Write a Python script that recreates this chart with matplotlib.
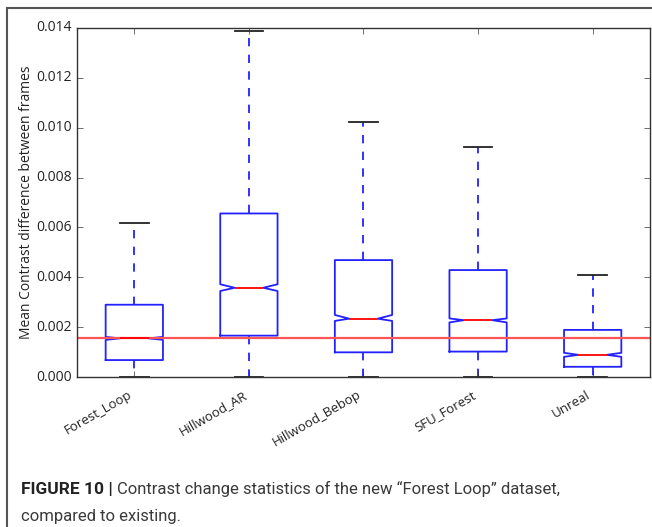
import matplotlib
matplotlib.use("Agg")
import matplotlib.pyplot as plt
from matplotlib.lines import Line2D

# dataset names and box statistics (values x 1e-3)
datasets = ["Forest_Loop", "Hillwood_AR", "Hillwood_Bebop", "SFU_Forest", "Unreal"]
whis_lo = [0.0, 0.0, 0.0, 0.0, 0.0]
q1 = [0.68, 1.66, 0.99, 1.02, 0.41]
medians = [1.55, 3.58, 2.34, 2.28, 0.89]
q3 = [2.90, 6.56, 4.69, 4.29, 1.89]
whis_hi = [6.16, 13.88, 10.24, 9.21, 4.09]
ci_lo = [1.49, 3.45, 2.25, 2.19, 0.81]
ci_hi = [1.61, 3.72, 2.49, 2.35, 0.97]
ref_level = 1.55

plt.style.use('classic')
plt.rcParams['font.family'] = ['Open Sans', 'DejaVu Sans']

fig = plt.figure(figsize=(6.52, 5.27), dpi=100, facecolor='white')
ax = fig.add_axes([0.1181, 0.2846, 0.8788, 0.6623])
ax.set_facecolor('white')

stats = []
for i in range(len(datasets)):
    stats.append(dict(label=datasets[i],
                      whislo=whis_lo[i] * 1e-3, q1=q1[i] * 1e-3,
                      med=medians[i] * 1e-3, q3=q3[i] * 1e-3,
                      whishi=whis_hi[i] * 1e-3,
                      cilo=ci_lo[i] * 1e-3, cihi=ci_hi[i] * 1e-3,
                      fliers=[]))

ax.bxp(stats, shownotches=True, widths=0.5,
       boxprops=dict(color='#2222ff', linewidth=1.3),
       whiskerprops=dict(color='#2222ff', linestyle='--', linewidth=1.3),
       capprops=dict(color='#222222', linewidth=1.3),
       medianprops=dict(color='r', linewidth=1.3))

ax.axhline(ref_level * 1e-3, color='#ff5555', linewidth=1.6)

ax.set_xlim(0.5, 5.5)
ax.set_ylim(0, 0.014)
ax.set_yticks([0.000, 0.002, 0.004, 0.006, 0.008, 0.010, 0.012, 0.014])
ax.set_yticklabels(['%.3f' % v for v in ax.get_yticks()])
ax.tick_params(labelsize=10, colors='#333333')
ax.tick_params(axis='x', pad=8)
plt.setp(ax.get_xticklabels(), rotation=30, ha='right', fontsize=9.5, color='#222222')
plt.setp(ax.get_yticklabels(), color='#222222')
ax.set_ylabel('Mean Contrast difference between frames', fontsize=10, color='#222222',
              labelpad=1)
for s in ax.spines.values():
    s.set_color('#333333')

# caption + outer frame like the journal figure
fig.add_artist(Line2D([7 / 652, 7 / 652], [0, 1 - 8 / 527], transform=fig.transFigure,
                      color='#555555', linewidth=1.5))
fig.add_artist(Line2D([7 / 652, 1], [1 - 8 / 527, 1 - 8 / 527], transform=fig.transFigure,
                      color='#555555', linewidth=1.5))

cap_font = ['Roboto', 'DejaVu Sans']
t1 = fig.text(21 / 652, 1 - 489 / 527, 'FIGURE 10 |', fontsize=12.5, fontweight='bold',
              family=cap_font, va='center', color='#222222')
fig.canvas.draw()
bb = t1.get_window_extent()
fig.text((bb.x1 + 4) / 652, 1 - 489 / 527,
         'Contrast change statistics of the new \u201cForest Loop\u201d dataset,',
         fontsize=12, family=cap_font, va='center', color='#3a3a3a')
fig.text(21 / 652, 1 - 516 / 527, 'compared to existing.', fontsize=12,
         family=cap_font, va='center', color='#3a3a3a')

fig.savefig('out.png', dpi=100, facecolor='white')
